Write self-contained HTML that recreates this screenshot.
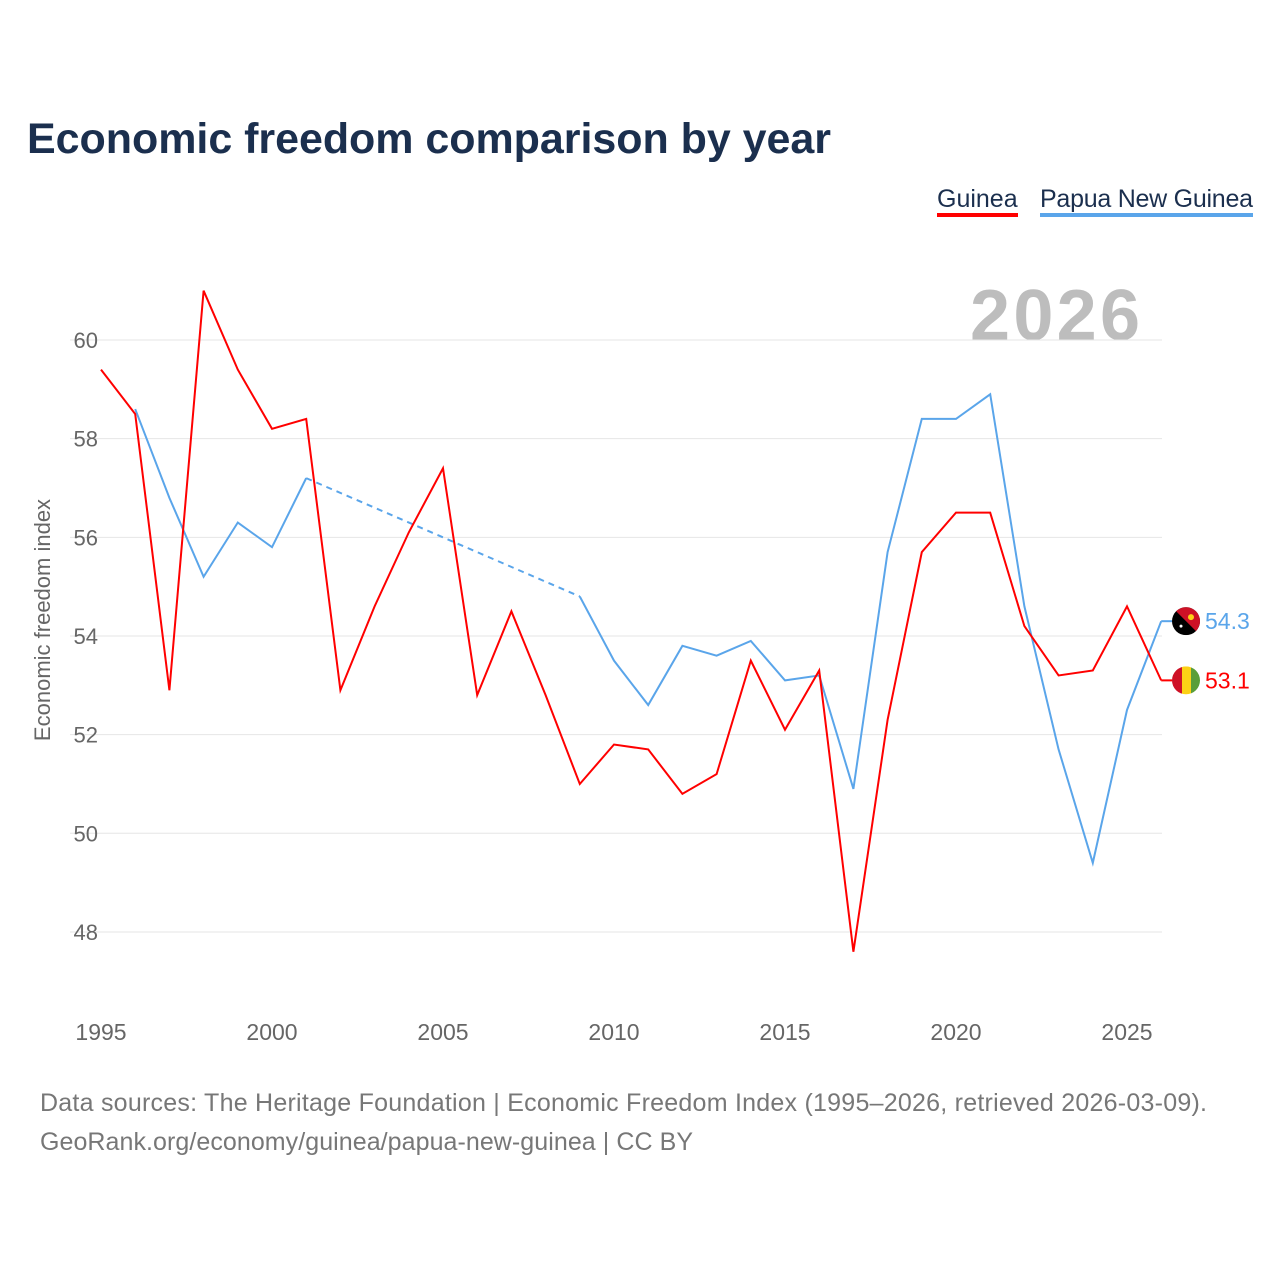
<!DOCTYPE html>
<html><head><meta charset="utf-8"><style>
body{margin:0;background:#fff;font-family:"Liberation Sans",sans-serif}
</style></head><body>
<svg id="chart" width="1280" height="1280" xmlns="http://www.w3.org/2000/svg">
<text x="27" y="153" font-size="43" font-weight="bold" fill="#1b2f4e" textLength="804">Economic freedom comparison by year</text>
<g>
<text x="937" y="207" font-size="25" fill="#1b2f4e">Guinea</text>
<rect x="937" y="213" width="81" height="4" fill="#ff0000"/>
<text x="1040" y="207" font-size="25" fill="#1b2f4e" textLength="213">Papua New Guinea</text>
<rect x="1040" y="213" width="213" height="4" fill="#5aa5ea"/>
</g>
<text x="1140" y="340" font-size="72" font-weight="bold" fill="#bdbdbd" text-anchor="end" textLength="170">2026</text>
<g id="grid"></g>
<g id="yticks"></g>
<g id="xticks"></g>
<text transform="translate(50,620) rotate(-90)" font-size="22" fill="#666" text-anchor="middle">Economic freedom index</text>
<g id="series"></g>
<text x="40" y="1111" font-size="25" fill="#777" textLength="1167">Data sources: The Heritage Foundation | Economic Freedom Index (1995–2026, retrieved 2026-03-09).</text>
<text x="40" y="1150" font-size="25" fill="#777" textLength="653">GeoRank.org/economy/guinea/papua-new-guinea | CC BY</text>
</svg>
<script>
const years=[1995,1996,1997,1998,1999,2000,2001,2002,2003,2004,2005,2006,2007,2008,2009,2010,2011,2012,2013,2014,2015,2016,2017,2018,2019,2020,2021,2022,2023,2024,2025,2026];
const guinea=[59.4,58.5,52.9,61.0,59.4,58.2,58.4,52.9,54.6,56.1,57.4,52.8,54.5,52.8,51.0,51.8,51.7,50.8,51.2,53.5,52.1,53.3,47.6,52.3,55.7,56.5,56.5,54.2,53.2,53.3,54.6,53.1];
const png=[null,58.6,56.8,55.2,56.3,55.8,57.2,null,null,null,null,null,null,null,54.8,53.5,52.6,53.8,53.6,53.9,53.1,53.2,50.9,55.7,58.4,58.4,58.9,54.6,51.7,49.4,52.5,54.3];
const yTicks=[48,50,52,54,56,58,60];
const xTicks=[1995,2000,2005,2010,2015,2020,2025];
const NS="http://www.w3.org/2000/svg";
const X=y=>101+(y-1995)*34.2;
const Y=v=>340+(60-v)*49.33;
function mk(t,a,p){const e=document.createElementNS(NS,t);for(const k in a)e.setAttribute(k,a[k]);p.appendChild(e);return e;}
const grid=document.getElementById('grid'),yt=document.getElementById('yticks'),xt=document.getElementById('xticks'),ser=document.getElementById('series');
yTicks.forEach(v=>{
 const l=mk('line',{x1:70,x2:1162,y1:Y(v),y2:Y(v),stroke:'#e6e6e6','stroke-width':1},grid);
 
 
 const t=mk('text',{x:98,y:Y(v)+8,'font-size':22,fill:'#666','text-anchor':'end'},yt);t.textContent=v;
 
 
});
xTicks.forEach(v=>{
 const t=mk('text',{x:X(v),y:1040,'font-size':23,fill:'#666','text-anchor':'middle'},xt);t.textContent=v;
 
 
});
function draw(vals,color,name){
 let seg=[],gapStart=null;
 const segs=[];
 vals.forEach((v,i)=>{
  if(v==null){if(seg.length){segs.push(seg);gapStart=seg[seg.length-1];seg=[];}return;}
  const p=[X(years[i]),Y(v)];
  if(!seg.length&&gapStart){const d=mk('line',{x1:gapStart[0],y1:gapStart[1],x2:p[0],y2:p[1],stroke:color,'stroke-width':2,'stroke-dasharray':'6,5'},ser);
   
   gapStart=null;}
  seg.push(p);
 });
 if(seg.length)segs.push(seg);
 segs.forEach(s=>{const pl=mk('polyline',{points:s.map(p=>p.join(',')).join(' '),fill:'none',stroke:color,'stroke-width':2},ser);
  
  });
}
draw(png,'#5aa5ea','png');
draw(guinea,'#ff0000','guinea');
function endLabel(vals,color,name,flag){
 const v=vals[vals.length-1],x=X(years[years.length-1]),y=Y(v);
 const g=mk('g',{},ser);
 
 
 mk('line',{x1:x,y1:y,x2:1172,y2:y,stroke:color,'stroke-width':2},g);
 const cx=1186;
 const cp=mk('clipPath',{id:'c'+name},g);mk('circle',{cx:cx,cy:y,r:14},cp);
 const fg=mk('g',{'clip-path':'url(#c'+name+')'},g);
 if(flag==='gn'){mk('rect',{x:cx-14,y:y-14,width:10,height:28,fill:'#ce1126'},fg);mk('rect',{x:cx-4,y:y-14,width:9,height:28,fill:'#fcd116'},fg);mk('rect',{x:cx+5,y:y-14,width:10,height:28,fill:'#5a9e3a'},fg);}
 else{mk('rect',{x:cx-14,y:y-14,width:28,height:28,fill:'#000'},fg);mk('polygon',{points:`${cx-14},${y-14} ${cx+14},${y-14} ${cx+14},${y+14}`,fill:'#ce1126'},fg);mk('circle',{cx:cx+5,cy:y-4,r:3,fill:'#fcd116'},fg);mk('circle',{cx:cx-5,cy:y+5,r:1.5,fill:'#fff'},fg);}
 const t=mk('text',{x:1205,y:y+8,'font-size':23,fill:color},g);t.textContent=v.toFixed(1);
}
endLabel(png,'#5aa5ea','png','pg');
endLabel(guinea,'#ff0000','guinea','gn');
</script>
</body></html>
